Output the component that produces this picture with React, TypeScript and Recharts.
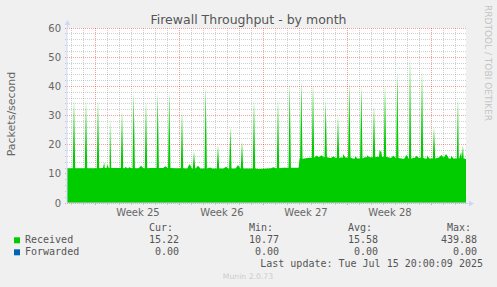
import React from 'react';
import { ComposedChart, Area, XAxis, YAxis, CartesianGrid, ReferenceLine } from 'recharts';

// ---- data (x in days since the left edge of the graph) ----
const baseDays = [0, 2.4, 3.0, 4.8, 7.0, 9.0, 10.0, 13.0, 16.0, 17.0, 18.0, 19.3, 19.38, 20.2, 21.0, 22.0, 23.0, 24.0, 25.0, 26.0, 27.0, 28.0, 29.0, 30.0, 31.0, 32.0, 33.25];
const baseVals = [11.9, 11.9, 12.0, 11.9, 12.0, 11.9, 11.8, 11.8, 11.7, 11.9, 12.1, 12.1, 15.2, 15.5, 15.7, 15.4, 15.6, 15.3, 15.7, 15.9, 15.4, 15.2, 15.5, 15.3, 15.6, 15.3, 15.1];

const spikeDays = [0.583, 1.583, 2.583, 3.583, 4.583, 5.56, 6.583, 7.56, 8.52, 9.583, 10.583, 11.56, 12.583, 13.61, 14.583, 15.583, 17.583, 18.56, 19.525, 20.5, 21.56, 22.583, 23.525, 24.525, 25.583, 26.5, 27.525, 28.583, 29.583, 30.583, 32.583, 33.0];
const spikeVals = [35.8, 35.4, 35.6, 29.0, 31.9, 37.8, 35.2, 37.8, 38.2, 31.9, 17.7, 39.8, 19.9, 26.1, 21.3, 35.6, 35.8, 41.3, 41.9, 41.0, 35.2, 30.0, 41.3, 40.3, 33.6, 40.5, 45.0, 50.5, 45.7, 26.0, 36.3, 19.8];

const bumpDays = [3.1, 3.35, 4.9, 5.2, 6.17, 8.2, 10.22, 10.92, 11.9, 13.25, 14.25, 17.2, 20.8, 21.2, 22.2, 23.0, 24.0, 25.0, 26.05, 26.2, 27.2, 28.3, 29.1, 30.0, 31.2, 31.583, 32.0, 32.85];
const bumpVals = [14.0, 13.2, 12.4, 12.3, 12.8, 12.6, 13.4, 12.8, 12.2, 12.4, 13.0, 12.3, 16.3, 16.4, 16.0, 16.8, 16.0, 16.4, 18.0, 17.5, 16.3, 16.5, 16.2, 16.3, 16.5, 16.8, 16.2, 17.5];

const yTicks = [0, 10, 20, 30, 40, 50, 60];
const weekTickDays = [5.917, 12.917, 19.917, 26.917];
const weekLabels = ['Week 25', 'Week 26', 'Week 27', 'Week 28'];
const majorXDays = [2.375, 9.375, 16.375, 23.375, 30.375];

const legendNames = ['Received', 'Forwarded'];
const legendColors = ['#00cc00', '#0066b3'];
const curVals = ['15.22', '0.00'];
const minVals = ['10.77', '0.00'];
const avgVals = ['15.58', '0.00'];
const maxVals = ['439.88', '0.00'];
const lastUpdate = 'Last update: Tue Jul 15 20:00:09 2025';

const X_END = 33.25;

function baseAt(d: number) {
  let v = baseVals[0];
  for (let i = 0; i < baseDays.length; i++) if (baseDays[i] <= d) v = baseVals[i];
  return v;
}

const rows: { day: number; received: number }[] = [];
baseDays.forEach((d, i) => rows.push({ day: d, received: baseVals[i] }));
spikeDays.forEach((d, i) => {
  const b = baseAt(d);
  rows.push({ day: Math.max(0, d - 0.1), received: b });
  rows.push({ day: d, received: spikeVals[i] });
  rows.push({ day: Math.min(X_END, d + 0.1), received: b });
});
bumpDays.forEach((d, i) => {
  const b = baseAt(d);
  rows.push({ day: d - 0.2, received: b });
  rows.push({ day: d, received: bumpVals[i] });
  rows.push({ day: Math.min(X_END, d + 0.2), received: b });
});
rows.sort((a, b) => a.day - b.day);

const minorXDays: number[] = [];
for (let k = 0; 0.375 + k < X_END; k++) {
  const d = 0.375 + k;
  if (!majorXDays.some((m) => Math.abs(m - d) < 1e-6)) minorXDays.push(d);
}
const minorY: number[] = [];
for (let v = 2; v < 60; v += 2) if (v % 10 !== 0) minorY.push(v);

const AXIS = '#CFD6F8';
const FONT = '#666666';
const MONO = "'DejaVu Sans Mono', monospace";
const SANS = "'DejaVu Sans', sans-serif";
const MINOR = 'rgba(120,120,120,0.34)';
const MAJOR = 'rgba(235,0,0,0.38)';

function tickLines() {
  const common = { strokeDasharray: '1 1', shapeRendering: 'crispEdges', ifOverflow: 'visible' as const };
  return [
    ...minorY.map((v) => (
      <ReferenceLine key={'hy' + v} segment={[{ x: -0.2, y: v }, { x: 0, y: v }]} stroke={MINOR} {...common} />
    )),
    ...minorXDays.map((d) => (
      <ReferenceLine key={'vx' + d} segment={[{ x: d, y: -0.75 }, { x: d, y: 0 }]} stroke={MINOR} {...common} />
    )),
    ...yTicks.map((v) => (
      <ReferenceLine key={'Hy' + v} segment={[{ x: -0.2, y: v }, { x: 0, y: v }]} stroke={MAJOR} {...common} />
    )),
    ...majorXDays.map((d) => (
      <ReferenceLine key={'Vx' + d} segment={[{ x: d, y: -0.75 }, { x: d, y: 0 }]} stroke={MAJOR} {...common} />
    )),
  ];
}

export default function App() {
  const colsCur = 179, colsMin = 279, colsAvg = 378, colsMax = 477;
  return (
    <div style={{ position: 'absolute', left: 0, top: 0, width: 497, height: 287, background: '#f0f0f0' }}>
      <ComposedChart width={497} height={287} data={rows} margin={{ top: 28, right: 31, bottom: 0, left: 0 }}>
        <CartesianGrid
          fill="#ffffff"
          stroke={MINOR}
          strokeDasharray="1 1"
          shapeRendering="crispEdges"
          horizontalValues={minorY}
          verticalValues={minorXDays}
        />
        <CartesianGrid
          stroke={MAJOR}
          strokeDasharray="1 1"
          shapeRendering="crispEdges"
          horizontalValues={yTicks}
          verticalValues={majorXDays}
        />
        <XAxis
          dataKey="day"
          type="number"
          domain={[0, X_END]}
          allowDataOverflow
          ticks={weekTickDays}
          tickFormatter={(v: number) => weekLabels[weekTickDays.indexOf(v)]}
          tickLine={false}
          tickSize={0}
          tickMargin={6}
          height={84}
          axisLine={{ stroke: AXIS }}
          tick={{ fill: FONT, fontSize: 10, fontFamily: SANS }}
          interval={0}
        />
        <YAxis
          type="number"
          domain={[0, 60]}
          ticks={yTicks}
          width={67}
          tickLine={false}
          tickSize={0}
          tickMargin={6}
          axisLine={{ stroke: AXIS }}
          tick={{ fill: FONT, fontSize: 10, fontFamily: SANS }}
          interval={0}
        />
        <Area
          type="linear"
          dataKey="received"
          stroke="none"
          fill="#00cc00"
          fillOpacity={1}
          isAnimationActive={false}
          dot={false}
          activeDot={false}
        />
        {tickLines()}
      </ComposedChart>
      <svg width={497} height={287} style={{ position: 'absolute', left: 0, top: 0, pointerEvents: 'none' }}>
        {/* axis arrows */}
        <line x1={67.5} y1={28} x2={67.5} y2={23} stroke={AXIS} />
        <polygon points="64.5,25 70.5,25 67.5,20" fill={AXIS} />
        <line x1={466} y1={203.5} x2={471} y2={203.5} stroke={AXIS} />
        <polygon points="469,200.5 469,206.5 474,203.5" fill={AXIS} />
        <text x={248.5} y={24} textAnchor="middle" fontFamily={SANS} fontSize={12.5} fill="#555">Firewall Throughput - by month</text>
        <text transform="translate(15,114) rotate(-90)" textAnchor="middle" fontFamily={SANS} fontSize={11} fill={FONT}>Packets/second</text>
        <text transform="translate(485,5) rotate(90)" textAnchor="start" fontFamily={SANS} fontSize={9} fill="#c4c4c4">RRDTOOL / TOBI OETIKER</text>
        <g fontFamily={MONO} fontSize={10} fill="#555">
          <text x={colsCur - 6} y={231} textAnchor="end">Cur:</text>
          <text x={colsMin - 6} y={231} textAnchor="end">Min:</text>
          <text x={colsAvg - 6} y={231} textAnchor="end">Avg:</text>
          <text x={colsMax - 6} y={231} textAnchor="end">Max:</text>
          {legendNames.map((n, i) => (
            <g key={n}>
              <rect x={14} y={237.3 + i * 12} width={6} height={6} fill={legendColors[i]} />
              <text x={25} y={243 + i * 12}>{n}</text>
              <text x={colsCur} y={243 + i * 12} textAnchor="end">{curVals[i]}</text>
              <text x={colsMin} y={243 + i * 12} textAnchor="end">{minVals[i]}</text>
              <text x={colsAvg} y={243 + i * 12} textAnchor="end">{avgVals[i]}</text>
              <text x={colsMax} y={243 + i * 12} textAnchor="end">{maxVals[i]}</text>
            </g>
          ))}
          <text x={483} y={267} textAnchor="end">{lastUpdate}</text>
        </g>
        <text x={248} y={279} textAnchor="middle" fontFamily={SANS} fontSize={7.7} fill="#cccccc">Munin 2.0.73</text>
      </svg>
    </div>
  );
}
